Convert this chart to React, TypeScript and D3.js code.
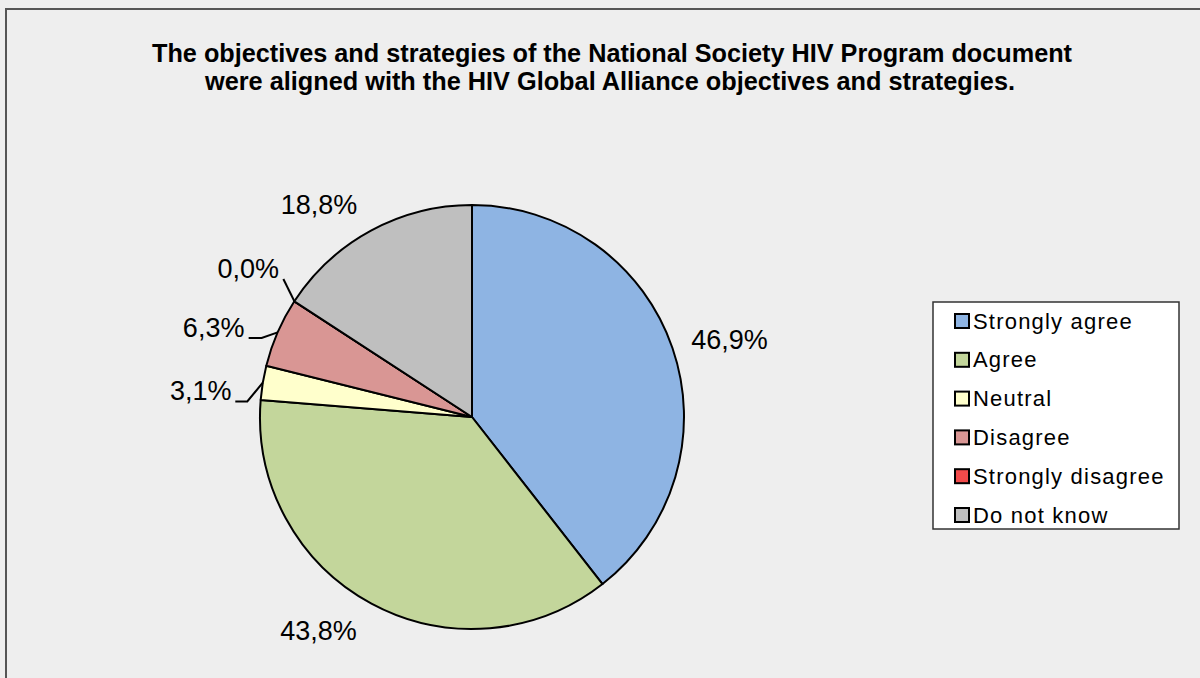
import React from "react";
import * as d3 from "d3";

const titleLines = [
  "The objectives and strategies of the National Society HIV Program document",
  "were aligned with the HIV Global Alliance objectives and strategies.",
];
const categories = ["Strongly agree", "Agree", "Neutral", "Disagree", "Strongly disagree", "Do not know"];
const values = [46.9, 43.8, 3.1, 6.3, 0.0, 18.8];
const labels = ["46,9%", "43,8%", "3,1%", "6,3%", "0,0%", "18,8%"];

const colors = ["#8EB4E3", "#C3D69B", "#FFFFCC", "#D99694", "#F24B4B", "#BFBFBF"];

// label placement relative to the outer-arc midpoint of each slice
const labelLayout = [
  { dx: 57, dy: -9, leader: false, elbow: 0 },
  { dx: -53, dy: 27, leader: false, elbow: 0 },
  { dx: -62, dy: 8, leader: true, elbow: 12 },
  { dx: -64, dy: -5, leader: true, elbow: 13 },
  { dx: -46, dy: -33, leader: true, elbow: 0 },
  { dx: -52, dy: -26, leader: false, elbow: 0 },
];

const W = 1200;
const H = 678;
const cx = 472;
const cy = 417;
const R = 212;
const labelFont = 27;
const labelWidths = [78, 78, 61, 62, 62, 76];

export default function App() {
  const pie = d3.pie<number>().sort(null).value((d) => d)(values);
  const arc = d3.arc<d3.PieArcDatum<number>>().innerRadius(0).outerRadius(R);

  const legendX = 933;
  const legendY = 302;
  const legendW = 246;
  const legendH = 227;
  const rowStep = 38.8;
  const rowY0 = 321;

  return (
    <svg
      width={W}
      height={H}
      style={{ position: "absolute", left: 0, top: 0, display: "block" }}
      fontFamily="'Liberation Sans', Arial, sans-serif"
    >
      <rect x={0} y={0} width={W} height={H} fill="#EEEEEE" />
      <rect x={6} y={9} width={W + 20} height={H + 20} fill="#EEEEEE" stroke="#555555" strokeWidth={2} />

      <text x={612} y={62} textAnchor="middle" fontWeight="bold" fontSize={26} textLength={920} lengthAdjust="spacingAndGlyphs" fill="#000">
        {titleLines[0]}
      </text>
      <text x={610} y={90} textAnchor="middle" fontWeight="bold" fontSize={26} textLength={810} lengthAdjust="spacingAndGlyphs" fill="#000">
        {titleLines[1]}
      </text>

      <g transform={`translate(${cx},${cy})`}>
        {pie.map((p, i) =>
          p.endAngle - p.startAngle > 0 ? (
            <path key={i} d={arc(p) || ""} fill={colors[i]} stroke="#000" strokeWidth={2} strokeLinejoin="round" />
          ) : (
            <line
              key={i}
              x1={0}
              y1={0}
              x2={Math.sin(p.startAngle) * R}
              y2={-Math.cos(p.startAngle) * R}
              stroke="#000"
              strokeWidth={2}
            />
          )
        )}
      </g>

      {pie.map((p, i) => {
        const mid = (p.startAngle + p.endAngle) / 2;
        const ex = cx + Math.sin(mid) * R;
        const ey = cy - Math.cos(mid) * R;
        const L = labelLayout[i];
        const tx = ex + L.dx;
        const ty = ey + L.dy;
        const baseline = ty + labelFont * 0.36;
        let leader = null;
        if (L.leader) {
          const sx = tx + labelWidths[i] / 2 + 4;
          const sy = baseline + 1;
          const pts: [number, number][] = [[sx, sy]];
          if (L.elbow > 0) pts.push([sx + L.elbow, sy]);
          pts.push([ex, ey]);
          leader = (
            <path d={d3.line()(pts) || ""} fill="none" stroke="#000" strokeWidth={2} />
          );
        }
        return (
          <g key={i}>
            {leader}
            <text x={tx} y={baseline} textAnchor="middle" fontSize={labelFont} fill="#000">
              {labels[i]}
            </text>
          </g>
        );
      })}

      <rect x={legendX} y={legendY} width={legendW} height={legendH} fill="#FFFFFF" stroke="#333" strokeWidth={1.5} />
      {categories.map((c, i) => {
        const y = rowY0 + i * rowStep;
        return (
          <g key={c}>
            <rect x={955} y={y - 7} width={14} height={14} fill={colors[i]} stroke="#000" strokeWidth={2} />
            <text x={973} y={y + 7.5} fontSize={22} letterSpacing={1.2} fill="#000">
              {c}
            </text>
          </g>
        );
      })}
    </svg>
  );
}
